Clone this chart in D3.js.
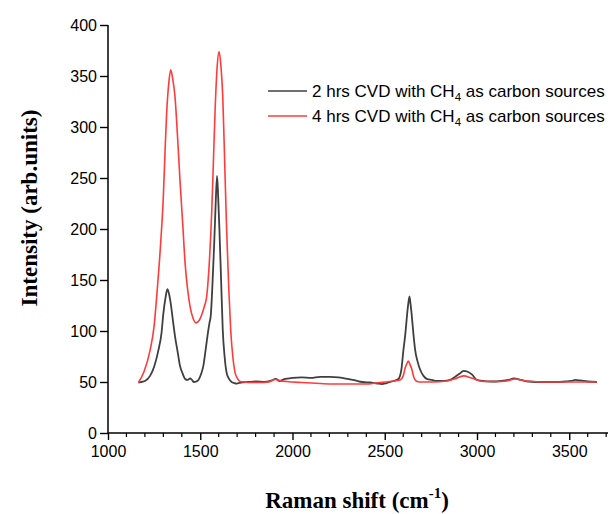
<!DOCTYPE html>
<html><head><meta charset="utf-8">
<script src="https://cdn.jsdelivr.net/npm/d3@7"></script>
<style>body{margin:0;background:#fff}svg{display:block}</style>
</head><body>
<svg id="c" width="611" height="514"></svg>
<script>
const xTicks = [1000,1500,2000,2500,3000,3500];
const yTicks = [0,50,100,150,200,250,300,350,400];
const seriesNames = ["2 hrs CVD with CH", "4 hrs CVD with CH"];
const seriesColors = ["#3f3f3f", "#ff3b3b"];
// 2 hrs CVD (black)
const shiftA = [1165,1200,1228,1250,1273,1290,1300,1312,1322,1330,1340,1352,1363,1377,1390,1405,1418,1432,1445,1455,1466,1478,1490,1505,1517,1528,1539,1550,1557,1566,1575,1583,1591,1597,1604,1613,1622,1632,1643,1656,1670,1684,1698,1720,1760,1800,1850,1880,1910,1930,1960,2000,2050,2100,2150,2200,2250,2300,2340,2380,2420,2460,2484,2510,2530,2547,2574,2590,2601,2612,2620,2627,2634,2640,2647,2656,2665,2678,2692,2710,2728,2755,2782,2820,2854,2880,2905,2927,2950,2975,2999,3030,3080,3130,3170,3200,3240,3280,3350,3420,3480,3510,3533,3560,3600,3650];
const intA = [49.5,51,56,65,81,98,117,133,141,137,127,110,95,80,66,58,53,52,53.5,52,50,50.5,52,58,66,80,95,108,115,145,183,222,252,232,199,150,101,75,59,53,50,49,48.5,49.5,50,50.5,50,51,53,51,53,54,54.5,54,55,55,54.5,53,51.5,50,49.5,48.5,48,49,50,51,53,62,81,98,114,126,134,126,114,96,81,70,62,56,53,52,51,51,52,55,58,61,60,57,52,51,50.5,51,52,53.5,52,50.5,50,50,50.5,51,52,51.5,50.5,50,50];
// 4 hrs CVD (red)
const shiftB = [1165,1195,1228,1250,1264,1285,1300,1310,1318,1330,1340,1350,1363,1377,1390,1405,1418,1432,1445,1460,1477,1493,1508,1522,1535,1550,1562,1572,1580,1592,1602,1612,1622,1633,1643,1655,1665,1677,1689,1700,1716,1740,1770,1820,1870,1906,1940,1969,2050,2150,2222,2300,2400,2450,2500,2550,2583,2600,2611,2620,2628,2637,2646,2657,2670,2690,2708,2760,2836,2880,2927,2970,3034,3100,3160,3207,3250,3300,3400,3500,3580,3650];
const intB = [49.5,60,81,105,134,185,232,280,314,344,356,348,330,290,248,205,166,140,124,113,108,110,116,124,134,170,216,270,314,360,374,360,330,262,199,140,101,74,59,54,50.5,50,49.5,49.5,50,52.5,51,50.5,49.5,48.5,48,48,48,49,50,51,52,56,64,68,70.5,67,63,55,51,50,50,50,51,53,56,54,50.5,50.5,51,53,51.5,50.5,50,50,50,50];

const x = d3.scaleLinear().domain([1000, 3710]).range([108, 608]);
const y = d3.scaleLinear().domain([0, 400]).range([433, 25]);
const svg = d3.select("#c");

const line = d3.line().x(d => x(d[0])).y(d => y(d[1])).curve(d3.curveMonotoneX);
const dataA = shiftA.map((s, i) => [s, intA[i]]);
const dataB = shiftB.map((s, i) => [s, intB[i]]);

svg.append("path").datum(dataA).attr("d", line).attr("fill","none")
  .attr("stroke", seriesColors[0]).attr("stroke-width", 1.8);
svg.append("path").datum(dataB).attr("d", line).attr("fill","none")
  .attr("stroke", seriesColors[1]).attr("stroke-width", 1.6);

// axes
const minor = d3.range(1100, 3701, 100).filter(v => v % 500 !== 0);
const gx = svg.append("g").attr("transform", "translate(0,433)");
gx.call(d3.axisBottom(x).tickValues(xTicks).tickSize(7).tickPadding(6).tickFormat(d3.format("d")));
gx.selectAll(".tick line").attr("stroke", "#000").attr("stroke-width", 1.4);
gx.selectAll(".minor").data(minor).enter().append("line").attr("class","minor")
  .attr("x1", d => x(d)).attr("x2", d => x(d)).attr("y1", 0).attr("y2", 4)
  .attr("stroke", "#000").attr("stroke-width", 1.2);
gx.select(".domain").attr("d", `M${x(1000)},0H${x(3710)}`).attr("stroke","#000").attr("stroke-width",1.5);
gx.selectAll("text").attr("font-family","Arial, 'Liberation Sans', sans-serif").attr("font-size", 16).attr("fill","#000");

const gy = svg.append("g").attr("transform", "translate(108,0)");
gy.call(d3.axisLeft(y).tickValues(yTicks).tickSize(8).tickPadding(3));
gy.selectAll(".tick line").attr("stroke", "#000").attr("stroke-width", 1.4);
gy.select(".domain").attr("d", `M0,${y(0)}V${y(400)}`).attr("stroke","#000").attr("stroke-width",1.5);
gy.selectAll("text").attr("font-family","Arial, 'Liberation Sans', sans-serif").attr("font-size", 16).attr("fill","#000");

// axis titles
const xt = svg.append("text").attr("x", 357).attr("y", 508).attr("text-anchor","middle")
  .attr("font-family","'Times New Roman','Liberation Serif',serif").attr("font-weight","bold").attr("font-size", 23);
xt.append("tspan").text("Raman shift (cm");
xt.append("tspan").text("-1").attr("font-size", 15).attr("dy", -10);
xt.append("tspan").text(")").attr("dy", 10);

svg.append("text").attr("transform", "translate(37,208) rotate(-90)").attr("text-anchor","middle")
  .attr("font-family","'Times New Roman','Liberation Serif',serif").attr("font-weight","bold").attr("font-size", 23)
  .text("Intensity (arb.units)");

// legend
const leg = svg.append("g");
[91, 116].forEach((ly, i) => {
  leg.append("line").attr("x1", 268).attr("x2", 307).attr("y1", ly).attr("y2", ly)
    .attr("stroke", seriesColors[i]).attr("stroke-width", 1.6);
  const t = leg.append("text").attr("x", 312).attr("y", ly + 6)
    .attr("font-family","Arial, 'Liberation Sans', sans-serif").attr("font-size", 17).attr("fill","#000");
  t.append("tspan").text(seriesNames[i]);
  t.append("tspan").text("4").attr("font-size", 11.5).attr("dy", 4);
  t.append("tspan").text(" as carbon sources").attr("dy", -4);
});
</script>
</body></html>
